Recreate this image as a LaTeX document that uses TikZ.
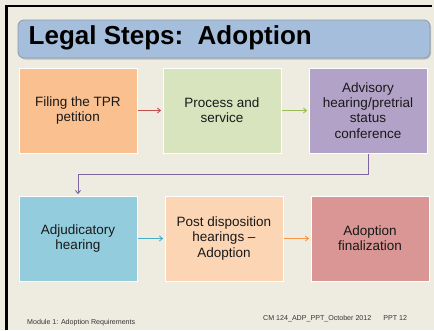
\documentclass[tikz,border=0pt]{standalone}
\usepackage{fontspec}
\setmainfont{Liberation Sans}
\usetikzlibrary{arrows.meta}
\definecolor{bg}{HTML}{EEEBE1}
\definecolor{titlefill}{HTML}{A5BEDC}
\definecolor{titleedge}{HTML}{8E9AA6}
\definecolor{cOne}{HTML}{FAC090}
\definecolor{cTwo}{HTML}{D7E4BD}
\definecolor{cThree}{HTML}{B3A2C7}
\definecolor{cFour}{HTML}{93CDDD}
\definecolor{cFive}{HTML}{FCD5B5}
\definecolor{cSix}{HTML}{D99694}
\definecolor{aRed}{HTML}{C0504D}
\definecolor{aGreen}{HTML}{9BBB59}
\definecolor{aPurple}{HTML}{8064A2}
\definecolor{aBlue}{HTML}{4BACC6}
\definecolor{aOrange}{HTML}{F79646}
\tikzset{
  stepbox/.style={draw=white, line width=0.8pt, minimum width=118pt, minimum height=85pt,
    inner sep=0pt, align=center, font=\fontsize{13.5}{15.2}\selectfont, text=black!90},
  conn/.style={line width=0.9pt, -{Straight Barb[length=3pt,width=5pt]}, shorten <=1pt, shorten >=1.5pt},
  foot/.style={font=\fontsize{7.1}{8}\selectfont, text=black!80, inner sep=0pt}
}
\begin{document}
\begin{tikzpicture}[x=1pt,y=-1pt]
\useasboundingbox (0,0) rectangle (434,330);
\fill[bg] (0,0) rectangle (434,330);
\fill[black] (5,5) rectangle (8,330);
\fill[black] (5,5) rectangle (432,7);
% title bar
\fill[black!25, rounded corners=6pt] (19.5,21.5) rectangle (431,59.5);
\node[draw=titleedge, fill=titlefill, rounded corners=6pt, line width=0.8pt,
      minimum width=412pt, minimum height=38pt, inner sep=0pt] (title) at (224,39) {};
\node[anchor=west, font=\bfseries\fontsize{26}{28}\selectfont, inner sep=0pt] (ttext) at (28.5,38) {Legal Steps:\ \ Adoption};
% boxes
\node[stepbox, fill=cOne]   (b1) at (78,110.5)  {Filing the TPR\\petition};
\node[stepbox, fill=cTwo]   (b2) at (222,110.5) {Process and\\service};
\node[stepbox, fill=cThree] (b3) at (368,110.5) {Advisory\\hearing/pretrial\\status\\conference};
\node[stepbox, fill=cFour]  (b4) at (78,238.5)  {Adjudicatory\\hearing};
\node[stepbox, fill=cFive]  (b5) at (224,238.5) {Post disposition\\hearings –\\Adoption};
\node[stepbox, fill=cSix]   (b6) at (370,238.5) {Adoption\\finalization};
% connectors
\draw[conn, aRed]    (b1.east) -- (b2.west);
\draw[conn, aGreen]  (b2.east) -- (b3.west);
\draw[conn, aPurple] (b3.south) -- ++(0,21) -| (b4.north);
\draw[conn, aBlue]   (b4.east) -- (b5.west);
\draw[conn, aOrange] (b5.east) -- (b6.west);
% footer
\node[foot, anchor=west] (f1) at (27,322.5) {Module 1: Adoption Requirements};
\node[foot, anchor=west] (f2) at (263,319) {CM 124\_ADP\_PPT\_October 2012\hspace{12pt}PPT 12};
\end{tikzpicture}
\end{document}
